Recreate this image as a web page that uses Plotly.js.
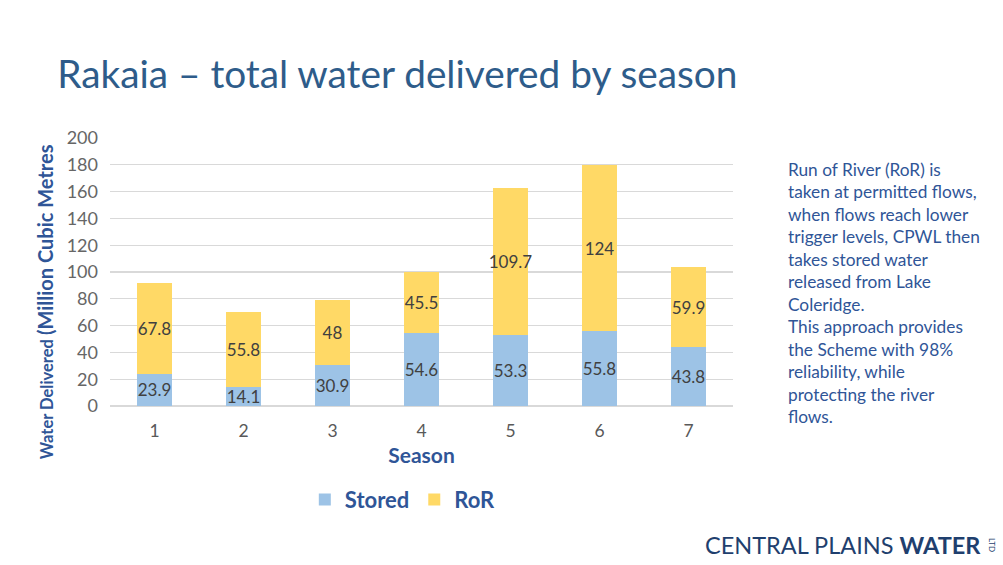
<!DOCTYPE html>
<html><head><meta charset="utf-8">
<script src="https://cdn.plot.ly/plotly-3.0.1.min.js"></script>
<style>body{margin:0;background:#fff}#c{width:1003px;height:565px}</style>
</head><body><div id="c"></div>
<script>
const seasons = ['1','2','3','4','5','6','7'];
const stored = [23.9, 14.1, 30.9, 54.6, 53.3, 55.8, 43.8];
const ror = [67.8, 55.8, 48, 45.5, 109.7, 124, 59.9];
const yTicks = [0,20,40,60,80,100,120,140,160,180,200];
const noteLines = ['Run of River (RoR) is','taken at permitted flows,','when flows reach lower','trigger levels, CPWL then','takes stored water','released from Lake','Coleridge.','This approach provides','the Scheme with 98%','reliability, while','protecting the river','flows.'];

const FONT = 'Lato, "Open Sans", sans-serif';
const BLUE = '#2F5597';
const lblFont = {family: FONT, size: 17, color: '#404040'};
const traces = [
  {type:'bar', name:'Stored', x:seasons, y:stored, marker:{color:'#9DC3E6'}, width:0.4,
   text:stored.map(String), textposition:'inside', insidetextanchor:'middle', textangle:0, constraintext:'none', textfont:lblFont, hoverinfo:'skip'},
  {type:'bar', name:'RoR', x:seasons, y:ror, marker:{color:'#FFD966'}, width:0.4,
   text:ror.map(String), textposition:'inside', insidetextanchor:'middle', textangle:0, constraintext:'none', textfont:lblFont, hoverinfo:'skip'}
];
const layout = {
  width:1003, height:565, barmode:'stack', showlegend:true,
  paper_bgcolor:'#fff', plot_bgcolor:'#fff',
  margin:{l:110, r:270, t:138, b:159},
  font:{family:FONT},
  title:{text:'Rakaia – total water delivered by season', x:0.057, xanchor:'left', y:0.868, yanchor:'middle',
         font:{family:FONT, size:38.8, color:'#2E5C8A'}},
  xaxis:{type:'category', tickfont:{size:17.5, color:'#595959'}, showline:false, ticks:'', ticklabelstandoff:12,
         title:{text:'<b>Season</b>', font:{size:21, color:BLUE}, standoff:8}},
  yaxis:{range:[0,200], tickvals:yTicks, ticktext:yTicks.map(String), tickfont:{size:18, color:'#666666'},
         gridcolor:'#D9D9D9', gridwidth:1.3, zeroline:true, zerolinecolor:'#D9D9D9', zerolinewidth:1.3, ticks:'', ticklabelstandoff:11},
  legend:{orientation:'h', x:0.47, xanchor:'center', y:-0.35, yanchor:'middle',
          font:{size:22, color:BLUE, family:FONT, weight:'bold'}, itemwidth:30, traceorder:'normal'},
  annotations:[
    {xref:'paper', yref:'paper', x:-0.104, y:0.388, xanchor:'center', yanchor:'middle', showarrow:false, textangle:-90,
     text:'<b><span style="font-size:16.5px">Water Delivered </span>(Million Cubic Metres</b>', font:{size:20, color:BLUE, family:FONT}},
    {xref:'paper', yref:'paper', x:1.085, y:0.93, xanchor:'left', yanchor:'top', align:'left', showarrow:false,
     text:noteLines.join('<br>'), font:{size:17.3, color:BLUE, family:FONT}},
    {xref:'paper', yref:'paper', x:1.402, y:-0.519, xanchor:'right', yanchor:'middle', showarrow:false,
     text:'CENTRAL PLAINS <b>WATER</b>', font:{size:23.5, color:'#1F3F6E', family:FONT}},
    {xref:'paper', yref:'paper', x:1.416, y:-0.519, xanchor:'center', yanchor:'middle', showarrow:false, textangle:90,
     text:'LTD', font:{size:8, color:'#1F3F6E', family:FONT}}
  ]
};
Plotly.newPlot('c', traces, layout, {displayModeBar:false, staticPlot:true});
</script></body></html>
